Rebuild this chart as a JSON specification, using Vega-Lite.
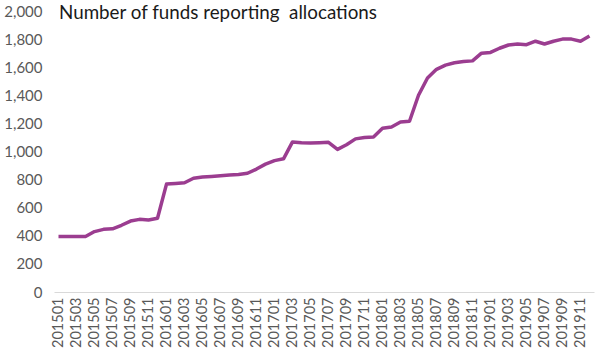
{
  "$schema": "https://vega.github.io/schema/vega-lite/v6.json",
  "autosize": {"type": "none"},
  "width": 540,
  "height": 281,
  "padding": {"left": 54, "top": 11, "right": 3, "bottom": 68},
  "background": "white",
  "title": {
    "text": "Number of funds reporting\u00a0 allocations",
    "anchor": "start",
    "frame": "group",
    "offset": 0,
    "dx": 5,
    "dy": 19,
    "fontSize": 18.8,
    "fontWeight": "normal",
    "font": "Lato",
    "color": "#1a1a1a"
  },
  "data": {
    "values": [
      {"month": "201501", "funds": 395}, {"month": "201502", "funds": 395}, {"month": "201503", "funds": 395}, {"month": "201504", "funds": 395},
      {"month": "201505", "funds": 430}, {"month": "201506", "funds": 446}, {"month": "201507", "funds": 450}, {"month": "201508", "funds": 475},
      {"month": "201509", "funds": 505}, {"month": "201510", "funds": 517}, {"month": "201511", "funds": 512}, {"month": "201512", "funds": 525},
      {"month": "201601", "funds": 768}, {"month": "201602", "funds": 773}, {"month": "201603", "funds": 778}, {"month": "201604", "funds": 810},
      {"month": "201605", "funds": 818}, {"month": "201606", "funds": 822}, {"month": "201607", "funds": 827}, {"month": "201608", "funds": 832},
      {"month": "201609", "funds": 837}, {"month": "201610", "funds": 845}, {"month": "201611", "funds": 875}, {"month": "201612", "funds": 910},
      {"month": "201701", "funds": 935}, {"month": "201702", "funds": 948}, {"month": "201703", "funds": 1068}, {"month": "201704", "funds": 1062},
      {"month": "201705", "funds": 1060}, {"month": "201706", "funds": 1063}, {"month": "201707", "funds": 1065}, {"month": "201708", "funds": 1015},
      {"month": "201709", "funds": 1048}, {"month": "201710", "funds": 1090}, {"month": "201711", "funds": 1100}, {"month": "201712", "funds": 1103},
      {"month": "201801", "funds": 1165}, {"month": "201802", "funds": 1175}, {"month": "201803", "funds": 1210}, {"month": "201804", "funds": 1215},
      {"month": "201805", "funds": 1400}, {"month": "201806", "funds": 1523}, {"month": "201807", "funds": 1585}, {"month": "201808", "funds": 1615},
      {"month": "201809", "funds": 1632}, {"month": "201810", "funds": 1640}, {"month": "201811", "funds": 1645}, {"month": "201812", "funds": 1700},
      {"month": "201901", "funds": 1705}, {"month": "201902", "funds": 1735}, {"month": "201903", "funds": 1758}, {"month": "201904", "funds": 1765},
      {"month": "201905", "funds": 1760}, {"month": "201906", "funds": 1785}, {"month": "201907", "funds": 1765}, {"month": "201908", "funds": 1785},
      {"month": "201909", "funds": 1800}, {"month": "201910", "funds": 1800}, {"month": "201911", "funds": 1785}, {"month": "201912", "funds": 1822}
    ]
  },
  "mark": {"type": "line", "color": "#9b3d90", "strokeWidth": 3.5, "strokeJoin": "round"},
  "encoding": {
    "x": {
      "field": "month",
      "type": "ordinal",
      "sort": null,
      "scale": {"type": "point", "padding": 0.5},
      "axis": {
        "title": null,
        "values": ["201501","201503","201505","201507","201509","201511","201601","201603","201605","201607","201609","201611","201701","201703","201705","201707","201709","201711","201801","201803","201805","201807","201809","201811","201901","201903","201905","201907","201909","201911"],
        "labelAngle": 270,
        "labelAlign": "right",
        "labelBaseline": "middle",
        "labelFont": "Lato",
        "labelFontSize": 14.5,
        "labelColor": "#595959",
        "labelPadding": 5,
        "ticks": false,
        "domainColor": "#d9d9d9",
        "domainWidth": 1,
        "grid": false
      }
    },
    "y": {
      "field": "funds",
      "type": "quantitative",
      "scale": {"domain": [0, 2000]},
      "axis": {
        "title": null,
        "values": [0,200,400,600,800,1000,1200,1400,1600,1800,2000],
        "format": ",.0f",
        "labelFont": "Lato",
        "labelFontSize": 15,
        "labelColor": "#595959",
        "labelPadding": 12,
        "ticks": false,
        "domain": false,
        "grid": false
      }
    }
  },
  "config": {"view": {"stroke": null}}
}
